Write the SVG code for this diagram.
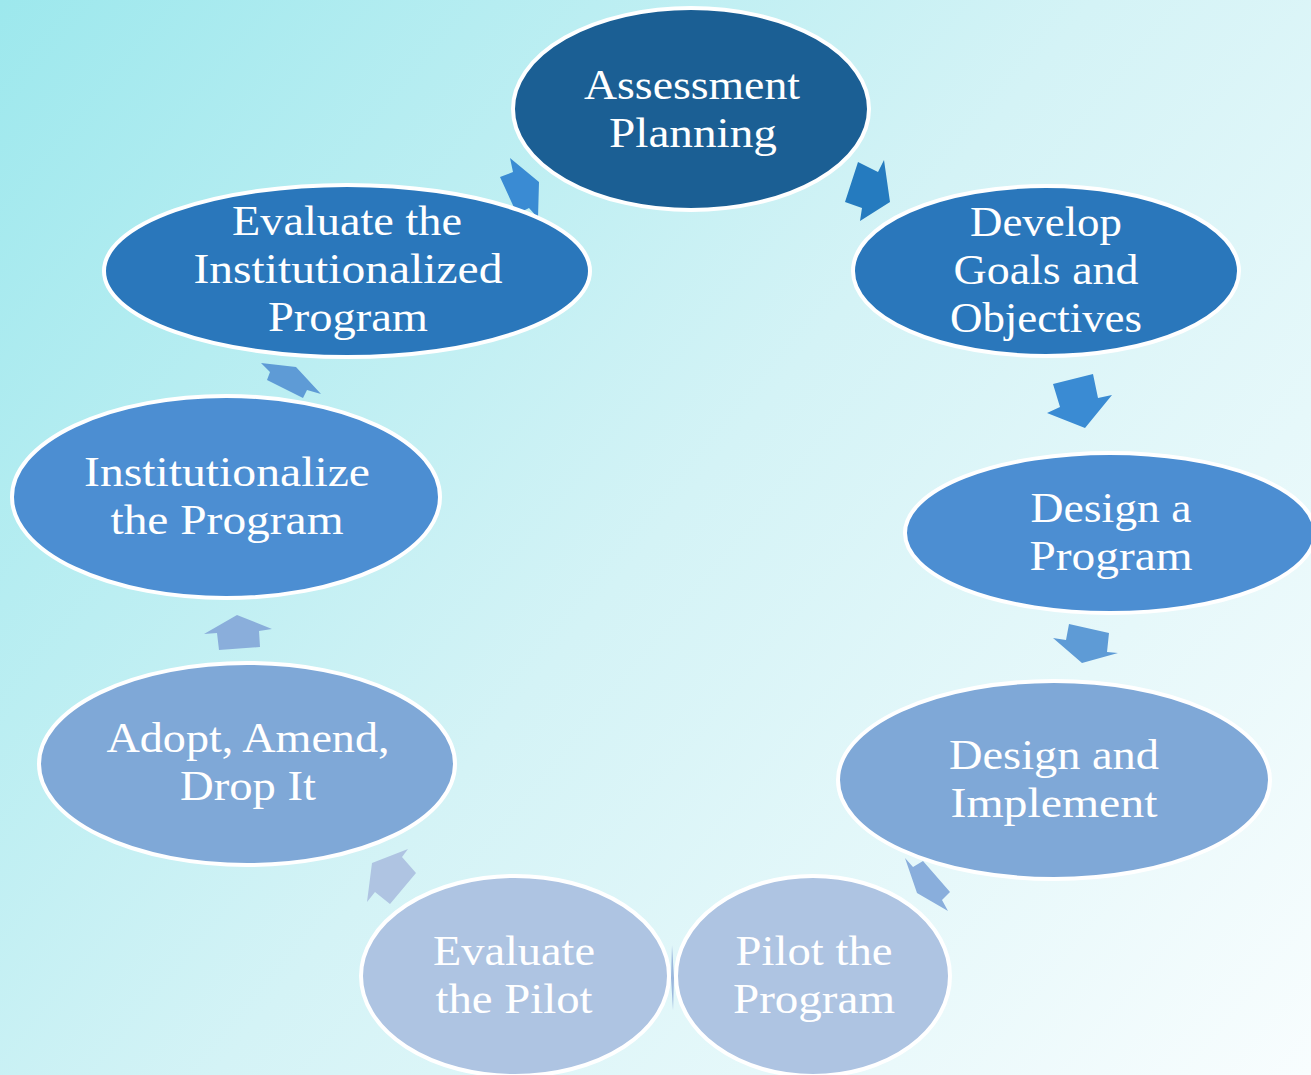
<svg xmlns="http://www.w3.org/2000/svg" width="1311" height="1075" viewBox="0 0 1311 1075">
<defs>
<linearGradient id="bg" x1="0" y1="0" x2="1311" y2="1075" gradientUnits="userSpaceOnUse">
<stop offset="0" stop-color="#9DE8ED"/>
<stop offset="0.5" stop-color="#D4F3F6"/>
<stop offset="1" stop-color="#F8FDFE"/>
</linearGradient>
<style>
.node ellipse{stroke:#FFFFFF;stroke-width:4}
.node text{font-family:"Liberation Serif","Times New Roman",serif;font-size:42px;fill:#FFFFFF;text-anchor:middle}
.c1{fill:#1B5F94}
.c2{fill:#2A77BB}
.c3{fill:#4C8ED2}
.c4{fill:#7FA8D7}
.c5{fill:#AEC4E2}
</style>
</defs>
<rect x="0" y="0" width="1311" height="1075" fill="url(#bg)"/>
<g id="connectors">
<polygon points="500,177 513,172 510,158 539,182 538,218 529,208 517,214" fill="#3A8BD3"/>
<polygon points="858,162 878,172 884,160 890,202 860,221 862,208 845,202" fill="#257BBF"/>
<polygon points="1053,384 1093,374 1098,398 1112,395 1085,428 1047,413 1060,407" fill="#3A8BD3"/>
<polygon points="1069,624 1109,633 1107,652 1118,653 1082,663 1053,638 1066,640" fill="#5E9BD6"/>
<polygon points="923,861 913,867 905,858 917,893 948,911 942,900 950,892" fill="#89AEDC"/>
<polygon points="672,945 674,978 673,1010 671,978" fill="#9BB7DD"/>
<polygon points="372,863 408,849 402,857 416,873 390,904 375,892 367,902" fill="#AFC4E2"/>
<polygon points="237,615 272,629 259,631 260,647 219,650 217,633 204,634" fill="#8AAEDB"/>
<polygon points="261,363 296,367 321,394 307,390 303,398 267,380 270,372" fill="#5E9BD6"/>
</g>
<g id="n1" class="node">
<ellipse class="c1" cx="691" cy="109" rx="178" ry="101"/>
<text x="692" y="99" textLength="216" lengthAdjust="spacingAndGlyphs">Assessment</text>
<text x="693" y="147" textLength="168" lengthAdjust="spacingAndGlyphs">Planning</text>
</g>
<g id="n2" class="node">
<ellipse class="c2" cx="1046" cy="271" rx="193" ry="85"/>
<text x="1046" y="236" textLength="152" lengthAdjust="spacingAndGlyphs">Develop</text>
<text x="1046" y="284" textLength="185" lengthAdjust="spacingAndGlyphs">Goals and</text>
<text x="1046" y="332" textLength="192" lengthAdjust="spacingAndGlyphs">Objectives</text>
</g>
<g id="n3" class="node">
<ellipse class="c3" cx="1110" cy="533" rx="205" ry="80"/>
<text x="1111" y="522" textLength="161" lengthAdjust="spacingAndGlyphs">Design a</text>
<text x="1111" y="570" textLength="163" lengthAdjust="spacingAndGlyphs">Program</text>
</g>
<g id="n4" class="node">
<ellipse class="c4" cx="1054" cy="780" rx="216" ry="99"/>
<text x="1054" y="769" textLength="210" lengthAdjust="spacingAndGlyphs">Design and</text>
<text x="1054" y="817" textLength="207" lengthAdjust="spacingAndGlyphs">Implement</text>
</g>
<g id="n5" class="node">
<ellipse class="c5" cx="813" cy="976" rx="137" ry="100"/>
<text x="814" y="965" textLength="157" lengthAdjust="spacingAndGlyphs">Pilot the</text>
<text x="814" y="1013" textLength="162" lengthAdjust="spacingAndGlyphs">Program</text>
</g>
<g id="n6" class="node">
<ellipse class="c5" cx="515" cy="976" rx="154" ry="100"/>
<text x="514" y="965" textLength="162" lengthAdjust="spacingAndGlyphs">Evaluate</text>
<text x="514" y="1013" textLength="157" lengthAdjust="spacingAndGlyphs">the Pilot</text>
</g>
<g id="n7" class="node">
<ellipse class="c4" cx="247" cy="764" rx="208" ry="101"/>
<text x="248" y="752" textLength="283" lengthAdjust="spacingAndGlyphs">Adopt, Amend,</text>
<text x="248" y="800" textLength="136" lengthAdjust="spacingAndGlyphs">Drop It</text>
</g>
<g id="n8" class="node">
<ellipse class="c3" cx="226" cy="497" rx="214" ry="101"/>
<text x="227" y="486" textLength="286" lengthAdjust="spacingAndGlyphs">Institutionalize</text>
<text x="227" y="534" textLength="233" lengthAdjust="spacingAndGlyphs">the Program</text>
</g>
<g id="n9" class="node">
<ellipse class="c2" cx="347" cy="271" rx="243" ry="86"/>
<text x="347" y="235" textLength="230" lengthAdjust="spacingAndGlyphs">Evaluate the</text>
<text x="348" y="283" textLength="309" lengthAdjust="spacingAndGlyphs">Institutionalized</text>
<text x="348" y="331" textLength="160" lengthAdjust="spacingAndGlyphs">Program</text>
</g>
</svg>
